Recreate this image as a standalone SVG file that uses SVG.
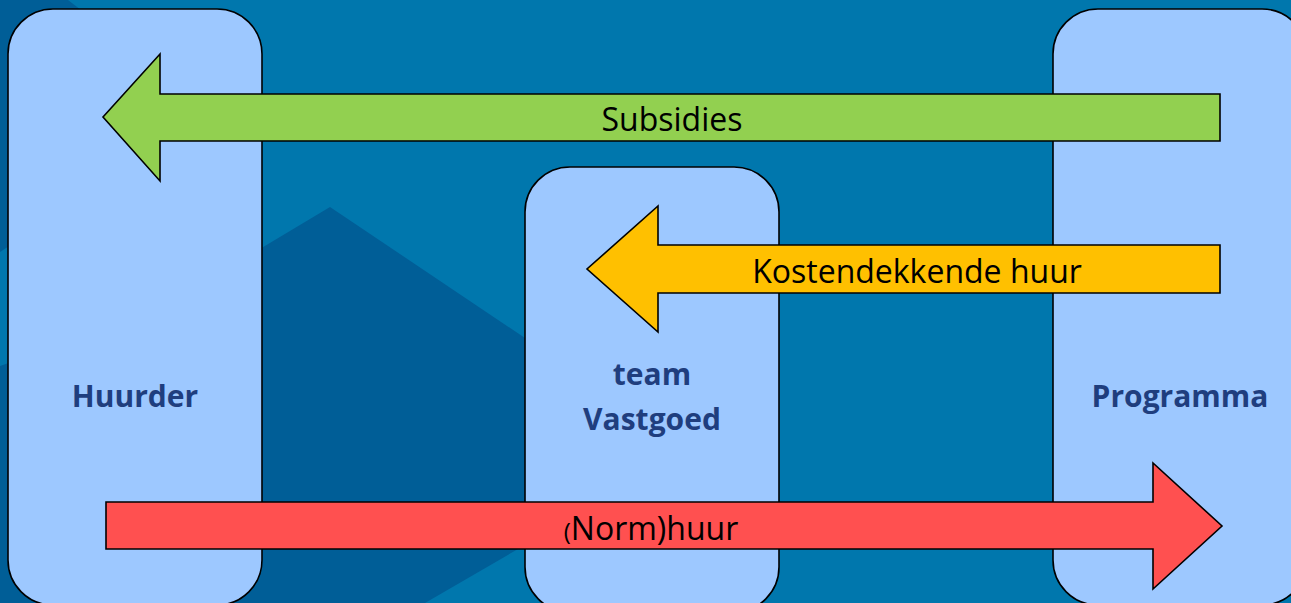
<svg xmlns="http://www.w3.org/2000/svg" width="1291" height="603" viewBox="0 0 1291 603">
  <style>
    .box { fill: #9DC8FF; stroke: #000; stroke-width: 1.6; }
    .arrow { stroke: #000; stroke-width: 1.6; stroke-linejoin: miter; }
    .lbl { font-family: "Open Sans", "Liberation Sans", sans-serif; font-size: 32px; fill: #000; text-anchor: middle; }
    .node { font-family: "Open Sans", "Liberation Sans", sans-serif; font-size: 30px; font-weight: bold; fill: #1F3E7E; text-anchor: middle; }
  </style>
  <g id="background">
    <rect x="0" y="0" width="1291" height="603" fill="#0077AD"/>
    <polygon points="0,0 68,0 120,40 120,603 0,603" fill="#005E97"/>
    <polygon points="0,252 40,226 40,352 0,366" fill="#0077AD"/>
    <polygon points="200,285 330,207 525,338 525,545 425,603 200,603" fill="#005E97"/>
  </g>
  <g id="huurder">
    <rect class="box" x="8" y="9" width="254" height="596" rx="45" ry="45"/>
    <text class="node" x="135" y="407">Huurder</text>
  </g>
  <g id="team-vastgoed">
    <rect class="box" x="525" y="167" width="254" height="445" rx="45" ry="45"/>
    <text class="node" x="652" y="385">team</text>
    <text class="node" x="652" y="430">Vastgoed</text>
  </g>
  <g id="programma">
    <rect class="box" x="1053" y="9" width="254" height="596" rx="45" ry="45"/>
    <text class="node" x="1180" y="407">Programma</text>
  </g>
  <g id="connectors">
    <g id="subsidies">
      <polygon class="arrow" fill="#92D050" points="1220,94 160,94 160,54 103,117 160,181 160,141 1220,141"/>
      <text class="lbl" x="672" y="131">Subsidies</text>
    </g>
    <g id="kostendekkende-huur">
      <polygon class="arrow" fill="#FFC000" points="1220,245 658,245 658,206 587,269 658,332 658,293 1220,293"/>
      <text class="lbl" x="917" y="283">Kostendekkende huur</text>
    </g>
    <g id="normhuur">
      <polygon class="arrow" fill="#FF5050" points="106,502 1153,502 1153,463 1222,526 1153,589 1153,549 106,549"/>
      <text class="lbl" x="651" y="540"><tspan font-size="24">(</tspan>Norm)huur</text>
    </g>
  </g>
</svg>
